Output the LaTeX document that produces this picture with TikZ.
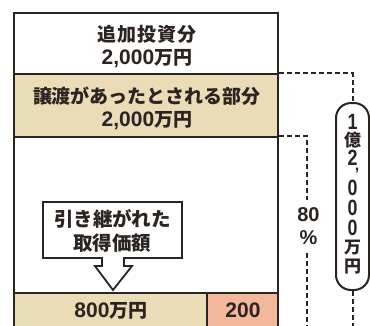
\documentclass[tikz,border=0pt]{standalone}
\usepackage{fontspec}
\usepackage{graphicx}
\setmainfont{Noto Sans CJK JP}
\newfontfamily\latin{Liberation Sans}
\definecolor{ink}{HTML}{2B2421}
\definecolor{beige}{HTML}{EADCB6}
\definecolor{salmon}{HTML}{F3B89C}
\newcommand\num[1]{{\fontsize{21}{23}\latin\bfseries #1}}
\newcommand\talldigit[1]{\scalebox{1.05}[1.3]{\latin #1}}
\begin{document}
\begin{tikzpicture}[x=1pt,y=-1pt,
  cell/.style={draw=ink,line width=2.4pt,inner sep=0pt},
  dashline/.style={draw=ink,line width=2pt,dash pattern=on 5pt off 3pt},
  lbl/.style={inner sep=0pt,align=center,font=\fontsize{19}{23}\bfseries,text=ink},
  vch/.style={inner sep=0pt,text=ink,font=\fontsize{17}{17}\bfseries}
]
\useasboundingbox (0,0) rectangle (370,325);
\clip (0,0) rectangle (370,325);
\fill[white] (0,0) rectangle (370,325);

% main stacked boxes
\node[cell,minimum width=264pt,minimum height=156pt] (mid) at (146,215) {};
\node[cell,minimum width=264pt,minimum height=61pt] (add) at (146,43.5) {};
\node[cell,fill=beige,minimum width=264pt,minimum height=63pt] (transfer) at (146,105.5) {};
\node[cell,fill=beige,minimum width=193pt,minimum height=36pt] (c800) at (110.5,311) {};
\node[cell,fill=salmon,minimum width=71pt,minimum height=36pt] (c200) at (242.5,311) {};

\node[lbl] (addtext) at (147,46.5) {\addfontfeature{LetterSpace=6}追加投資分\\\num{2,000}万円};
\node[lbl] (transfertext) at (147,108.5) {譲渡があったとされる部分\\\num{2,000}万円};
\node[lbl] (t800) at (111,310.5) {\num{800}万円};
\node[lbl] (t200) at (243,310.5) {\num{200}};

% callout arrow
\draw[ink,line width=1.8pt,fill=white,line join=miter]
  (43,202) -- (182,202) -- (182,258) -- (124,258) -- (124,266) -- (132,266)
  -- (113,290) -- (95,266) -- (102,266) -- (102,258) -- (43,258) -- cycle;
\node[lbl,font=\fontsize{19.5}{24}\bfseries] (callout) at (112.5,230.5) {引き継がれた\\取得価額};

% total rounded box
\node[draw=ink,line width=2pt,rounded corners=15pt,minimum width=33pt,
  minimum height=187pt,inner sep=0pt] (total) at (352.5,196.5) {};
\node[vch] (v1) at (352.5,122) {\talldigit{1}};
\node[vch] (v2) at (352.5,140) {億};
\node[vch] (v3) at (352.5,157.5) {\talldigit{2}};
\node[vch,anchor=base,font=\fontsize{16}{16}\bfseries] (v4) at (357,170) {\latin ,};
\node[vch] (v5) at (352.5,188) {\talldigit{0}};
\node[vch] (v6) at (352.5,208) {\talldigit{0}};
\node[vch] (v7) at (352.5,228) {\talldigit{0}};
\node[vch] (v8) at (352.5,247.5) {万};
\node[vch] (v9) at (352.5,267) {円};

% percentage label
\node[lbl,inner ysep=8pt,font=\fontsize{20}{23}\latin\bfseries] (pct) at (308.5,226.5) {80\\[0pt]\%};

\coordinate (pctend) at (307,335);
\coordinate (totend) at (352.5,335);

\draw[dashline] (transfer.north east) -| (total.north);
\draw[dashline] (total.south) -- (totend);
\draw[dashline] (mid.north east) -| ([xshift=-1.5pt]pct.north);
\draw[dashline] ([xshift=-1.5pt]pct.south) -- (pctend);
\end{tikzpicture}
\end{document}
